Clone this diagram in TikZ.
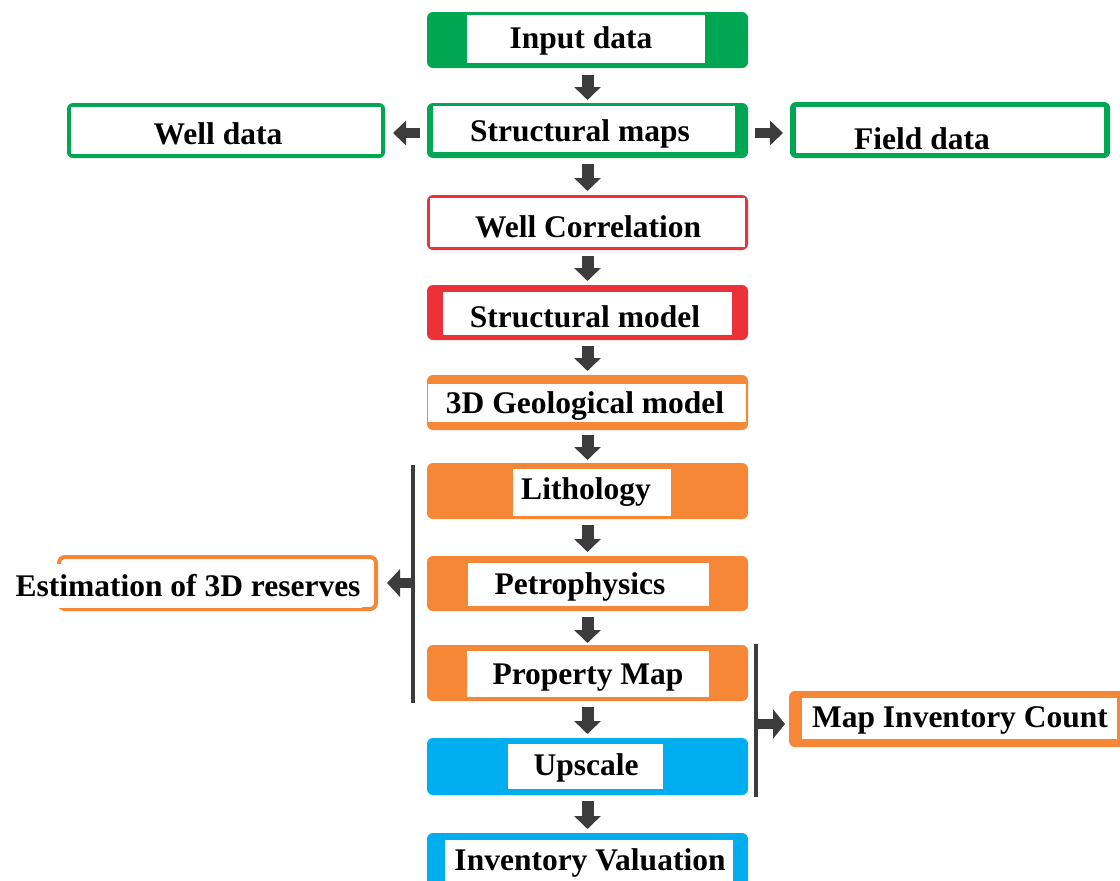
\documentclass[tikz,border=0pt]{standalone}
\usepackage{fontspec}
\setmainfont{Liberation Serif}
\usetikzlibrary{arrows.meta,calc}
\definecolor{cgreen}{HTML}{00A651}
\definecolor{cred}{HTML}{ED3237}
\definecolor{corange}{HTML}{F58737}
\definecolor{cblue}{HTML}{00AEEF}
\definecolor{cgray}{HTML}{3C3C3C}
\tikzset{
  outerbox/.style={rounded corners=6pt, inner sep=0pt, outer sep=0pt, minimum width=321pt, minimum height=55pt},
  lbl/.style={font=\bfseries\fontsize{31.5}{36}\selectfont, inner sep=0pt, text=black, yshift=-2.5pt},
  barrow/.style={draw=cgray, line width=12pt, -{Triangle[width=26pt,length=13pt]}, shorten <=6pt, shorten >=4pt},
  sarrow/.style={draw=cgray, line width=10pt, -{Triangle[width=24pt,length=13pt]}},
  bracketline/.style={draw=cgray, line width=4pt},
}
\begin{document}
\begin{tikzpicture}[x=1pt,y=-1pt]
\useasboundingbox (0,0) rectangle (1120,881);
\clip (0,0) rectangle (1120,881);
\fill[white] (0,0) rectangle (1120,881);

% Input data
\node[outerbox, fill=cgreen, minimum height=56pt] (input) at (587.5,40) {};
\fill[white] (467,15) rectangle (705,63);
\node[lbl] (tinput) at (581,38) {Input data};

% Structural maps
\node[outerbox, fill=cgreen] (smaps) at (587.5,130.5) {};
\fill[white] (433,106) rectangle (735,152);
\node[lbl] (tsmaps) at (580,131) {Structural maps};

% Well data
\node[outerbox, fill=cgreen, minimum width=318pt] (wdata) at (226,130.5) {};
\fill[white] (71,107) rectangle (381,154);
\node[lbl] (twdata) at (218,131) {Well data};

% Field data
\node[outerbox, fill=cgreen, minimum width=320pt, minimum height=56pt] (fdata) at (950,130) {};
\fill[white] (796,107) rectangle (1104,153);
\node[lbl] (tfdata) at (922,136) {Field data};

% Well Correlation
\node[outerbox, fill=cred] (wcorr) at (587.5,222.5) {};
\fill[white] (430,198) rectangle (745,247);
\node[lbl] (twcorr) at (588,224) {Well Correlation};

% Structural model
\node[outerbox, fill=cred] (smodel) at (587.5,312.5) {};
\fill[white] (443,292) rectangle (732,335);
\node[lbl] (tsmodel) at (585,314) {Structural model};

% 3D Geological model
\node[outerbox, fill=corange] (geo) at (587.5,402.5) {};
\fill[white] (428,384) rectangle (746,422);
\node[lbl] (tgeo) at (585,404) {3D Geological model};

% Lithology
\node[outerbox, fill=corange, minimum height=56pt] (litho) at (587.5,491) {};
\fill[white] (513,469) rectangle (671,516);
\node[lbl] (tlitho) at (586,490) {Lithology};

% Petrophysics
\node[outerbox, fill=corange] (petro) at (587.5,583.5) {};
\fill[white] (468,563) rectangle (709,606);
\node[lbl] (tpetro) at (580,584) {Petrophysics};

% Property Map
\node[outerbox, fill=corange, minimum height=56pt] (prop) at (587.5,673) {};
\fill[white] (467,651) rectangle (709,697);
\node[lbl] (tprop) at (588,675) {Property Map};

% Upscale
\node[outerbox, fill=cblue, minimum height=57pt] (up) at (587.5,766.5) {};
\fill[white] (508,744) rectangle (663,789);
\node[lbl] (tup) at (586,765) {Upscale};

% Inventory Valuation
\node[outerbox, fill=cblue, minimum height=67pt] (inv) at (587.5,866.5) {};
\fill[white] (445,840) rectangle (733,900);
\node[lbl] (tinv) at (590,860) {Inventory Valuation};

% Estimation of 3D reserves
\node[draw=corange, line width=4pt, fill=white, rounded corners=6pt, inner sep=0pt, minimum width=317pt, minimum height=52pt] (est) at (217.5,583) {};
\node[lbl, fill=white, inner xsep=2pt, minimum height=44pt] (test) at (188,583) {Estimation of 3D reserves};

% Map Inventory Count
\node[outerbox, fill=corange, minimum width=341pt, minimum height=56pt] (mic) at (959.5,719) {};
\fill[white] (802,698) rectangle (1117,739);
\node[lbl] (tmic) at (960,718) {Map Inventory Count};

% main flow arrows
\draw[barrow, shorten <=7pt, shorten >=3pt] (input) -- (smaps);
\draw[barrow] (smaps) -- (wcorr);
\draw[barrow] (wcorr) -- (smodel);
\draw[barrow] (smodel) -- (geo);
\draw[barrow, shorten <=5pt, shorten >=3pt] (geo) -- (litho);
\draw[barrow] (litho) -- (petro);
\draw[barrow, shorten >=2pt] (petro) -- (prop);
\draw[barrow] (prop) -- (up);
\draw[barrow] (up) -- (inv);

% side arrows
\draw[sarrow, shorten <=7pt, shorten >=8pt] ($(smaps.west)+(0,2.5)$) -- ($(wdata.east)+(0,2.5)$);
\draw[sarrow, shorten <=7pt, shorten >=7pt] ($(smaps.east)+(0,2.5)$) -- ($(fdata.west)+(0,3)$);

% left bracket
\coordinate (lbt) at (413,465);
\coordinate (lbb) at (413,703);
\coordinate (lbm) at (413,583);
\draw[bracketline] (lbt) -- (lbb);
\draw[draw=cgray, line width=10pt, -{Triangle[width=27pt,length=13pt]}, shorten >=9pt] (lbm) -- (lbm -| est.east);

% right bracket
\coordinate (rbt) at (756,644);
\coordinate (rbb) at (756,797);
\coordinate (rbm) at (756,724);
\draw[bracketline] (rbt) -- (rbb);
\draw[draw=cgray, line width=10pt, -{Triangle[width=29pt,length=12pt]}, shorten >=4pt] (rbm) -- (rbm -| mic.west);
\end{tikzpicture}
\end{document}
